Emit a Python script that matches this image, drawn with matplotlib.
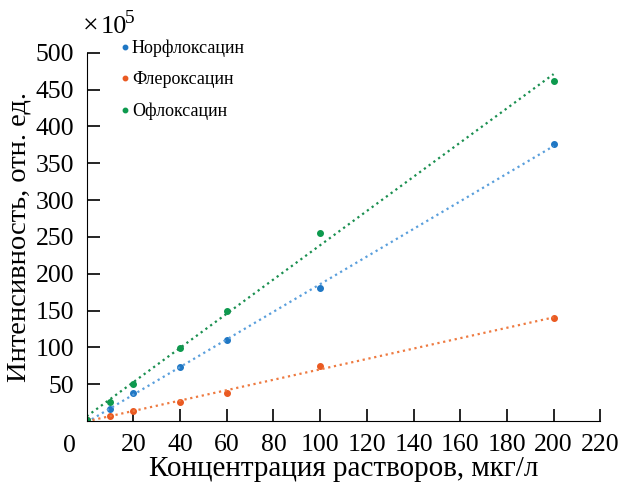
import matplotlib
matplotlib.use("Agg")
from matplotlib import pyplot as plt
import numpy as np

plt.rcParams['font.family'] = ['Liberation Serif', 'DejaVu Serif']

conc = [0, 10, 20, 40, 60, 100, 200]
norflox = [1, 16.5, 37.5, 73, 110, 181, 376]
fleroxa = [1, 7, 14, 26, 38.5, 74.5, 140]
oflox = [1, 25.5, 51, 99.5, 150, 255, 462]

names = ['Норфлоксацин', 'Флероксацин', 'Офлоксацин']
colors = ['#1f77c4', '#ea5a22', '#0d9a4e']
line_colors = ['#5a9fdc', '#ee7a40', '#1a8f50']

fig = plt.figure(figsize=(6.24, 4.84), dpi=100)
ax = fig.add_axes([0.139, 0.130, 0.823, 0.761])

for ys, name, c, lc in zip([norflox, fleroxa, oflox], names, colors, line_colors):
    ax.plot(conc, ys, 'o', color=c, markersize=4, label=name)
    k, b = np.polyfit(conc, ys, 1)
    xx = np.array([0, 200])
    ax.plot(xx, k * xx + b, ':', color=lc, linewidth=1.6)

ax.set_xlim(0, 220)
ax.set_ylim(0, 500)
ax.set_xticks(range(20, 221, 20))
ax.set_yticks(range(50, 501, 50))
ax.tick_params(direction='in', labelsize=18.5, length=9, width=1.2)
ax.tick_params(axis='y', pad=9)
ax.tick_params(axis='x', pad=9)
ax.spines['top'].set_visible(False)
ax.spines['right'].set_visible(False)
ax.text(-0.033, -0.038, '0', transform=ax.transAxes, fontsize=18.5, ha='center', va='top')

ax.set_xlabel('Концентрация растворов, мкг/л', fontsize=21, labelpad=0)
ax.set_ylabel('Интенсивность, отн. ед.', fontsize=20.5, labelpad=3)
# multiplier label: ×, 10, raised 5
fig.text(0.133, 0.945, '×', fontsize=20, va='center', ha='left')
fig.text(0.161, 0.945, '10', fontsize=19, va='center', ha='left')
fig.text(0.2, 0.962, '5', fontsize=14, va='center', ha='left')

leg = ax.legend(loc='upper left', bbox_to_anchor=(0.035, 1.08), frameon=False,
                fontsize=13, handlelength=0.4, handletextpad=0.2,
                labelspacing=0.8, markerscale=0.8)

fig.savefig('out.png', dpi=100)
